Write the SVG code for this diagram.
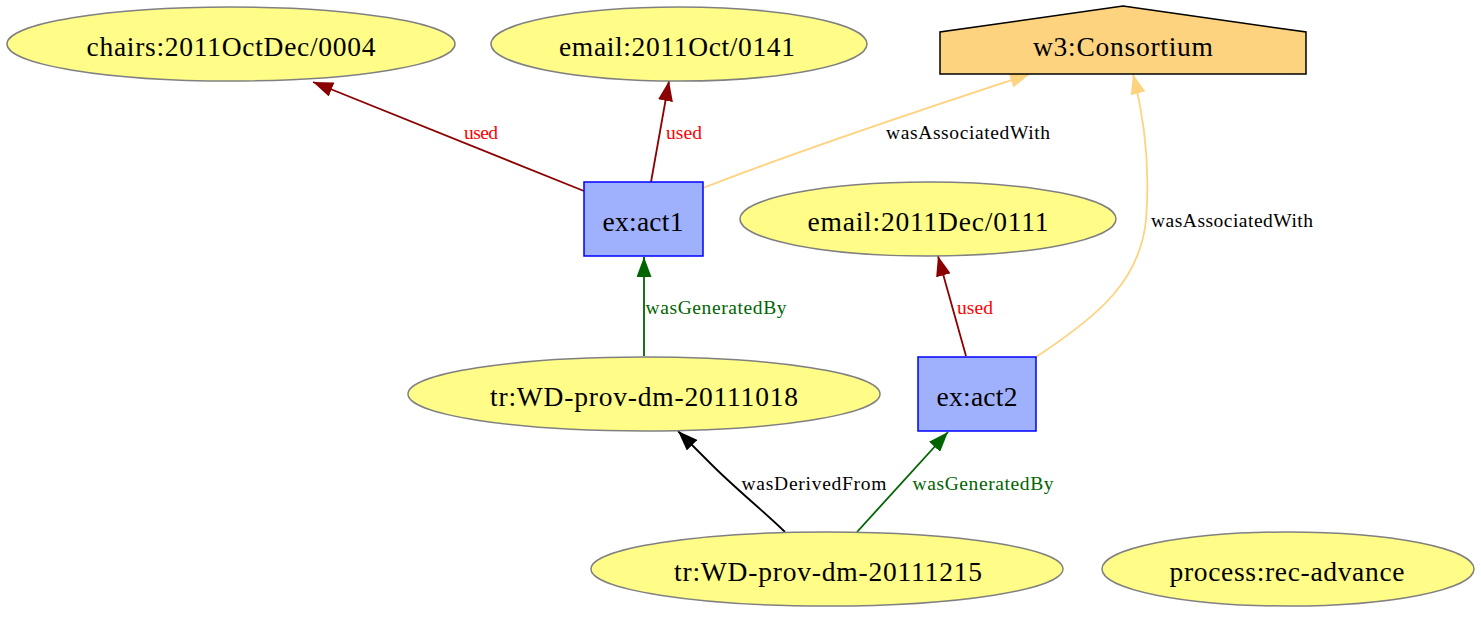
<svg xmlns="http://www.w3.org/2000/svg" width="1481" height="617" viewBox="0 0 1481 617">
<style>
.ent{fill:#FFFC87;stroke:#808080;stroke-width:1.5}
.act{fill:#9FB1FC;stroke:#0000FF;stroke-width:1.5}
.agt{fill:#FED37F;stroke:#000000;stroke-width:1.5}
.nl{font-family:"Liberation Serif","Times New Roman",serif;font-size:27.5px;fill:#000;text-anchor:middle}
.el{font-family:"Liberation Serif","Times New Roman",serif;font-size:19.5px;text-anchor:middle}
.e{fill:none;stroke-width:1.8}
.used{stroke:#8B0000}
.gen{stroke:#006400}
.assoc{stroke:#FED37F}
.der{stroke:#000000}
</style>
<defs>
<marker id="aUsed" viewBox="0 0 20 15" refX="20" refY="7.5" markerWidth="20" markerHeight="15" markerUnits="userSpaceOnUse" orient="auto"><path d="M0,0 L20,7.5 L0,15 z" fill="#8B0000"/></marker>
<marker id="aGen" viewBox="0 0 20 15" refX="20" refY="7.5" markerWidth="20" markerHeight="15" markerUnits="userSpaceOnUse" orient="auto"><path d="M0,0 L20,7.5 L0,15 z" fill="#006400"/></marker>
<marker id="aAssoc" viewBox="0 0 20 15" refX="20" refY="7.5" markerWidth="20" markerHeight="15" markerUnits="userSpaceOnUse" orient="auto"><path d="M0,0 L20,7.5 L0,15 z" fill="#FED37F"/></marker>
<marker id="aDer" viewBox="0 0 20 15" refX="20" refY="7.5" markerWidth="20" markerHeight="15" markerUnits="userSpaceOnUse" orient="auto"><path d="M0,0 L20,7.5 L0,15 z" fill="#000000"/></marker>
</defs>
<rect width="1481" height="617" fill="#ffffff"/>
<g id="connectors">
<path class="e used" d="M584,191 L313,82" marker-end="url(#aUsed)"/>
<text class="el" x="481" y="139" fill="#FF0000" textLength="34">used</text>
<path class="e used" d="M651,182 L669,81" marker-end="url(#aUsed)"/>
<text class="el" x="684" y="139" fill="#FF0000" textLength="36">used</text>
<path class="e assoc" d="M703,188 C800,150 920,110 1030,74" marker-end="url(#aAssoc)"/>
<text class="el" x="968" y="139" fill="#000000" textLength="164">wasAssociatedWith</text>
<path class="e assoc" d="M1036,357 C1100,315 1140,280 1146,220 C1150,170 1145,120 1133,74" marker-end="url(#aAssoc)"/>
<text class="el" x="1232" y="227" fill="#000000" textLength="162">wasAssociatedWith</text>
<path class="e used" d="M966,356 L938,256" marker-end="url(#aUsed)"/>
<text class="el" x="975" y="314" fill="#FF0000" textLength="36">used</text>
<path class="e gen" d="M644,356 L644,257" marker-end="url(#aGen)"/>
<text class="el" x="716" y="314" fill="#006400" textLength="141">wasGeneratedBy</text>
<path class="e der" d="M785,532 C760,508 735,488 712,465 L678,431" marker-end="url(#aDer)"/>
<text class="el" x="814" y="490" fill="#000000" textLength="145">wasDerivedFrom</text>
<path class="e gen" d="M857,532 L948,432" marker-end="url(#aGen)"/>
<text class="el" x="983" y="490" fill="#006400" textLength="141">wasGeneratedBy</text>
</g>
<g id="chairs">
<ellipse class="ent" cx="231" cy="44" rx="224" ry="37"/>
<text class="nl" x="231" y="56" textLength="289">chairs:2011OctDec/0004</text>
</g>
<g id="email0141">
<ellipse class="ent" cx="679" cy="44" rx="188" ry="37"/>
<text class="nl" x="677" y="56" textLength="236">email:2011Oct/0141</text>
</g>
<g id="w3consortium">
<polygon class="agt" points="1123,6 1306,32 1306,74 940,74 940,32"/>
<text class="nl" x="1123" y="56" textLength="180">w3:Consortium</text>
</g>
<g id="act1">
<rect class="act" x="584" y="182" width="119" height="74"/>
<text class="nl" x="643" y="231" textLength="81">ex:act1</text>
</g>
<g id="email0111">
<ellipse class="ent" cx="928" cy="219" rx="188" ry="37"/>
<text class="nl" x="928" y="231" textLength="241">email:2011Dec/0111</text>
</g>
<g id="act2">
<rect class="act" x="918" y="357" width="118" height="74"/>
<text class="nl" x="977" y="406" textLength="81">ex:act2</text>
</g>
<g id="tr20111018">
<ellipse class="ent" cx="644" cy="394" rx="236" ry="37"/>
<text class="nl" x="644" y="406" textLength="308">tr:WD-prov-dm-20111018</text>
</g>
<g id="tr20111215">
<ellipse class="ent" cx="827" cy="569" rx="236" ry="37"/>
<text class="nl" x="828" y="581" textLength="308">tr:WD-prov-dm-20111215</text>
</g>
<g id="recadvance">
<ellipse class="ent" cx="1288" cy="569" rx="186" ry="37"/>
<text class="nl" x="1287" y="581" textLength="235">process:rec-advance</text>
</g>
</svg>
